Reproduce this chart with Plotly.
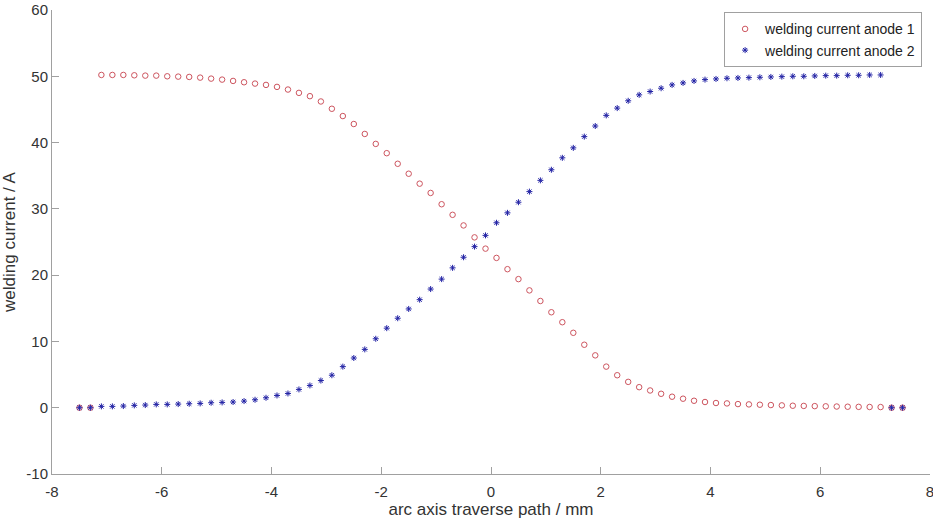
import plotly.graph_objects as go

# traverse positions (mm)
x_mm = [-7.5, -7.3,
        -7.1, -6.9, -6.7, -6.5, -6.3, -6.1, -5.9, -5.7, -5.5, -5.3, -5.1, -4.9,
        -4.7, -4.5, -4.3, -4.1, -3.9, -3.7, -3.5, -3.3, -3.1, -2.9, -2.7, -2.5,
        -2.3, -2.1, -1.9, -1.7, -1.5, -1.3, -1.1, -0.9, -0.7, -0.5, -0.3, -0.1,
        0.1, 0.3, 0.5, 0.7, 0.9, 1.1, 1.3, 1.5, 1.7, 1.9, 2.1, 2.3,
        2.5, 2.7, 2.9, 3.1, 3.3, 3.5, 3.7, 3.9, 4.1, 4.3, 4.5, 4.7,
        4.9, 5.1, 5.3, 5.5, 5.7, 5.9, 6.1, 6.3, 6.5, 6.7, 6.9, 7.1,
        7.3, 7.5]

current_anode1 = [0.0, 0.0,
                  50.2, 50.2, 50.2, 50.15, 50.1, 50.1, 50.0, 49.95, 49.9, 49.8, 49.65, 49.5,
                  49.3, 49.1, 48.9, 48.7, 48.4, 48.0, 47.5, 47.0, 46.2, 45.1, 44.0, 42.8,
                  41.3, 39.8, 38.4, 36.8, 35.3, 33.8, 32.4, 30.7, 29.1, 27.5, 25.7, 24.0,
                  22.6, 20.9, 19.4, 17.7, 16.1, 14.4, 12.9, 11.3, 9.5, 7.9, 6.2, 4.9,
                  3.9, 3.1, 2.6, 2.1, 1.66, 1.36, 1.05, 0.86, 0.71, 0.65, 0.55, 0.5,
                  0.45, 0.4, 0.35, 0.3, 0.27, 0.24, 0.21, 0.18, 0.15, 0.13, 0.11, 0.1,
                  0.0, 0.0]

current_anode2 = [0.0, 0.0,
                  0.2, 0.2, 0.25, 0.35, 0.4, 0.5, 0.5, 0.55, 0.6, 0.65, 0.75, 0.8,
                  0.86, 1.0, 1.2, 1.5, 1.85, 2.15, 2.76, 3.36, 4.1, 4.9, 6.2, 7.5,
                  8.8, 10.4, 12.0, 13.5, 14.9, 16.3, 17.9, 19.4, 21.1, 22.7, 24.3, 26.0,
                  27.9, 29.4, 31.0, 32.6, 34.3, 35.9, 37.7, 39.2, 40.9, 42.5, 44.1, 45.2,
                  46.3, 47.2, 47.7, 48.2, 48.7, 49.0, 49.3, 49.5, 49.6, 49.7, 49.75, 49.8,
                  49.85, 49.9, 49.95, 50.0, 50.0, 50.05, 50.1, 50.1, 50.15, 50.15, 50.2, 50.2,
                  0.0, 0.0]

series_names = ["welding current anode 1", "welding current anode 2"]
x_ticks = [-8, -6, -4, -2, 0, 2, 4, 6, 8]
y_ticks = [-10, 0, 10, 20, 30, 40, 50, 60]

FONT = "Liberation Sans, Arial, sans-serif"
RED = "rgb(205,85,95)"
BLUE = "rgb(35,35,165)"

fig = go.Figure()
fig.add_trace(go.Scatter(
    x=x_mm, y=current_anode1, mode="markers", name=series_names[0],
    marker=dict(symbol="circle-open", size=5.5, color=RED,
                line=dict(width=1, color=RED)),
))
fig.add_trace(go.Scatter(
    x=x_mm, y=current_anode2, mode="markers", name=series_names[1],
    marker=dict(symbol="asterisk-open", size=5, color=BLUE,
                line=dict(width=1, color=BLUE)),
))

axis_common = dict(
    showgrid=False, zeroline=False, showline=True, linecolor="#a0a0a0", linewidth=1,
    ticks="inside", ticklen=7, tickcolor="#a0a0a0", tickwidth=1,
    tickfont=dict(family=FONT, size=15, color="#333333"),
    automargin=False, mirror=False, ticklabeloverflow="allow",
)

fig.update_layout(
    width=933, height=522,
    margin=dict(l=52, r=3, t=10, b=48),
    paper_bgcolor="white", plot_bgcolor="white",
    font=dict(family=FONT, color="#333333"),
    showlegend=True,
    legend=dict(
        x=0.991, y=0.995, xanchor="right", yanchor="top",
        bgcolor="white", bordercolor="#a0a0a0", borderwidth=1,
        font=dict(family=FONT, size=14, color="#222222"),
        tracegroupgap=0, itemwidth=30,
    ),
    xaxis=dict(
        range=[-8, 8], tickvals=x_ticks, ticktext=[str(v) for v in x_ticks],
        ticklabelstandoff=4,
        title=dict(text="arc axis traverse path / mm",
                   font=dict(family=FONT, size=17, color="#333333"), standoff=4),
        **axis_common,
    ),
    yaxis=dict(
        range=[-10, 60], tickvals=y_ticks, ticktext=[str(v) for v in y_ticks],
        title=dict(text="welding current / A",
                   font=dict(family=FONT, size=17, color="#333333"), standoff=8),
        **axis_common,
    ),
)

fig.write_html("out.html", config={"displayModeBar": False},
               post_script="document.body.style.margin='0';")
